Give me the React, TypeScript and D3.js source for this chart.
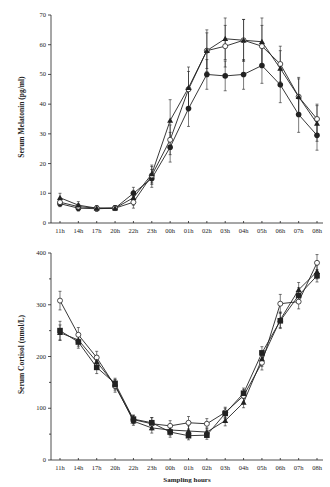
import React from "react";
import * as d3 from "d3";

const hours = ["11h", "14h", "17h", "20h", "22h", "23h", "00h", "01h", "02h", "03h", "04h", "05h", "06h", "07h", "08h"];

// Serum melatonin (pg/ml), mean and SE per group
const melFilled = [6.5, 5, 4.8, 5, 10, 15, 25.5, 38.5, 50, 49.5, 50, 53, 46.5, 36.5, 29.5];
const melFilledErr = [1, 1, 0.8, 0.8, 2, 3, 5, 6, 5, 5, 5, 6, 6, 6, 5];
const melTriangle = [8.5, 6, 5, 5, 8.5, 16.5, 34.5, 45.5, 58, 62, 61.5, 61, 52, 42.5, 33.5];
const melTriangleErr = [1.5, 1.2, 0.8, 0.8, 2.5, 3, 7, 7, 7, 7, 7, 8, 6, 6.5, 6];
const melOpen = [7, 5.5, 5, 5, 7, 16, 28, 45, 58, 59.5, 61.5, 59.5, 53.5, 42.5, 35];
const melOpenErr = [1.2, 1, 0.8, 0.8, 2, 3, 5, 6, 6, 7, 7, 7, 6, 6, 5];
const melTicks = [0, 10, 20, 30, 40, 50, 60, 70];

// Serum cortisol (nmol/L), mean and SE per group
const cortFilled = [250, 228, 179, 148, 79, 72, 54, 47, 48, 90, 129, 207, 269, 318, 356];
const cortFilledErr = [18, 12, 12, 10, 8, 10, 10, 8, 8, 10, 10, 12, 15, 15, 12];
const cortTriangle = [246, 232, 190, 145, 75, 62, 58, 56, 54, 76, 111, 195, 271, 329, 364];
const cortTriangleErr = [15, 12, 12, 10, 8, 10, 10, 10, 8, 10, 10, 14, 15, 14, 14];
const cortOpen = [308, 242, 198, 143, 78, 70, 66, 72, 70, 92, 124, 188, 302, 306, 381];
const cortOpenErr = [18, 14, 12, 12, 8, 12, 10, 12, 10, 10, 12, 14, 18, 14, 16];
const cortTicks = [0, 100, 200, 300, 400];
const cortMinorTicks = [50, 150, 250, 350];

type Series = { values: number[]; err: number[]; marker: "circle" | "triangle" | "open" | "square" };

const FONT = "'Liberation Serif', 'DejaVu Serif', serif";
const INK = "#222";

function Marker({ kind, x, y }: { kind: Series["marker"]; x: number; y: number }) {
  if (kind === "circle") return <circle cx={x} cy={y} r={2.8} fill={INK} />;
  if (kind === "square") return <rect x={x - 2.8} y={y - 2.8} width={5.6} height={5.6} fill={INK} />;
  if (kind === "open") return <circle cx={x} cy={y} r={2.5} fill="#fff" stroke={INK} strokeWidth={0.8} />;
  const s = 3;
  return <path d={`M${x},${y - s}L${x + s},${y + s * 0.75}L${x - s},${y + s * 0.75}Z`} fill={INK} />;
}

function Panel({
  top, bottom, yMax, ticks, minor, series, yTitle, xTitle,
}: {
  top: number; bottom: number; yMax: number; ticks: number[]; minor: number[];
  series: Series[]; yTitle: string; xTitle?: string;
}) {
  const left = 51;
  const right = 323;
  const x = d3.scalePoint<string>().domain(hours).range([60, 317]);
  const y = d3.scaleLinear().domain([0, yMax]).range([bottom, top]);
  const line = d3.line<number>().x((_, i) => x(hours[i])!).y((v) => y(v));
  return (
    <g>
      {/* axes */}
      <line x1={left} x2={left} y1={top} y2={bottom} stroke={INK} strokeWidth={0.8} />
      <line x1={left} x2={right} y1={bottom} y2={bottom} stroke={INK} strokeWidth={0.8} />
      {ticks.map((t) => (
        <g key={t}>
          <line x1={left - 3} x2={left} y1={y(t)} y2={y(t)} stroke={INK} strokeWidth={0.8} />
          <text x={left - 5} y={y(t) + 2} textAnchor="end" fontSize={6.5} fontFamily={FONT} fill={INK}>{t}</text>
        </g>
      ))}
      {minor.map((t) => (
        <line key={t} x1={left - 2} x2={left} y1={y(t)} y2={y(t)} stroke={INK} strokeWidth={0.8} />
      ))}
      {hours.map((h) => (
        <g key={h}>
          <line x1={x(h)!} x2={x(h)!} y1={bottom} y2={bottom - 2} stroke={INK} strokeWidth={0.8} />
          <text x={x(h)!} y={bottom + 10} textAnchor="middle" fontSize={6.5} fontFamily={FONT} fill={INK}>{h}</text>
        </g>
      ))}
      <text
        transform={`translate(24,${(top + bottom) / 2 - 2}) rotate(-90)`}
        textAnchor="middle" fontSize={7.5} fontWeight="bold" fontFamily={FONT} fill={INK}
      >{yTitle}</text>
      {xTitle && (
        <text x={(left + right) / 2} y={bottom + 22} textAnchor="middle" fontSize={7} fontWeight="bold" fontFamily={FONT} fill={INK}>{xTitle}</text>
      )}
      {/* error bars */}
      {series.map((s, si) => (
        <g key={"e" + si}>
          {s.values.map((v, i) => {
            const cx = x(hours[i])!;
            return (
              <g key={i}>
                <line x1={cx} x2={cx} y1={y(v + s.err[i])} y2={y(v - s.err[i])} stroke={INK} strokeWidth={0.6} />
                <line x1={cx - 1.5} x2={cx + 1.5} y1={y(v + s.err[i])} y2={y(v + s.err[i])} stroke={INK} strokeWidth={0.6} />
                <line x1={cx - 1.5} x2={cx + 1.5} y1={y(v - s.err[i])} y2={y(v - s.err[i])} stroke={INK} strokeWidth={0.6} />
              </g>
            );
          })}
        </g>
      ))}
      {/* lines */}
      {series.map((s, si) => (
        <path key={"l" + si} d={line(s.values) ?? ""} fill="none" stroke={INK} strokeWidth={0.9} />
      ))}
      {/* markers */}
      {series.map((s, si) => (
        <g key={"m" + si}>
          {s.values.map((v, i) => (
            <Marker key={i} kind={s.marker} x={x(hours[i])!} y={y(v)} />
          ))}
        </g>
      ))}
    </g>
  );
}

export default function App() {
  return (
    <svg width={330} height={487} style={{ position: "absolute", left: 0, top: 0, background: "#fff" }}>
      <rect width={330} height={487} fill="#fff" />
      <Panel
        top={15}
        bottom={223}
        yMax={70}
        ticks={melTicks}
        minor={[]}
        yTitle="Serum Melatonin (pg/ml)"
        series={[
          { values: melFilled, err: melFilledErr, marker: "circle" },
          { values: melOpen, err: melOpenErr, marker: "open" },
          { values: melTriangle, err: melTriangleErr, marker: "triangle" },
        ]}
      />
      <Panel
        top={253}
        bottom={460}
        yMax={400}
        ticks={cortTicks}
        minor={cortMinorTicks}
        yTitle="Serum Cortisol (nmol/L)"
        xTitle="Sampling hours"
        series={[
          { values: cortOpen, err: cortOpenErr, marker: "open" },
          { values: cortTriangle, err: cortTriangleErr, marker: "triangle" },
          { values: cortFilled, err: cortFilledErr, marker: "square" },
        ]}
      />
    </svg>
  );
}
